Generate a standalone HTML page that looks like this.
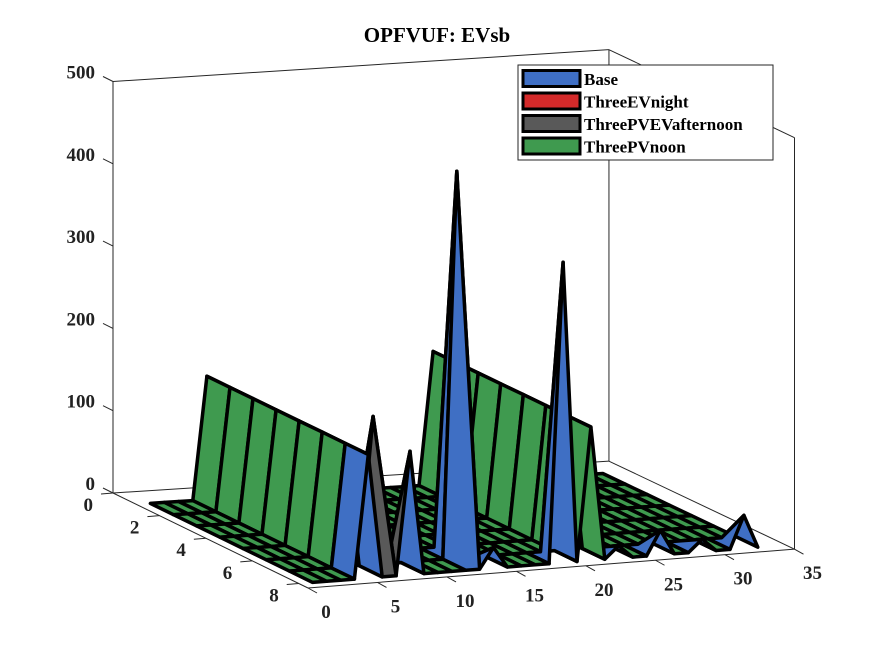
<!DOCTYPE html>
<html><head><meta charset="utf-8"><style>
html,body{margin:0;padding:0;background:#fff;width:875px;height:656px;overflow:hidden}
svg{display:block;font-family:"Liberation Serif",serif;font-weight:bold}
</style></head><body>
<svg id="chart" width="875" height="656" viewBox="0 0 875 656" xmlns="http://www.w3.org/2000/svg">
<text x="437" y="42" text-anchor="middle" font-size="21" fill="#000">OPFVUF: EVsb</text>
<g id="box"></g>
<g id="surf"></g>
<g id="ticks"></g>
<g id="legend"></g>
</svg>
<script>
// ---- data ----
const seriesNames = ["Base","ThreeEVnight","ThreePVEVafternoon","ThreePVnoon"];
const seriesColors = ["#3f6fc4","#d42a2a","#595959","#3f9a4f"];
const gridXCount = 33;
const gridYCount = 8;
const wallX = [5, 21];
const wallZ = [150, 162];
const spikeX = [13, 19, 8, 7, 26, 32, 14, 23, 29];
const spikeY = [7, 8, 8, 7, 8, 8, 8, 8, 8];
const spikeZ = [470, 365, 150, 180, 30, 40, 25, 15, 15];
const spikeS = [0, 0, 0, 2, 0, 0, 0, 0, 0];
const zTicks = [0, 100, 200, 300, 400, 500];
const yTicks = [0, 2, 4, 6, 8];
const xTicks = [0, 5, 10, 15, 20, 25, 30, 35];

// ---- projection ----
const YMAX = 8.4, ZMAX = 500, XMAX = 35;
function proj(x, y, z) {
  const t = y / YMAX;
  const bx = 113 + 14.17 * x, by = 493 - 0.91 * x;
  const fx = 308 + 13.9 * x, fy = 588 - 1.11 * x;
  return [bx + (fx - bx) * t, by + (fy - by) * t - z * 0.823];
}
const NS = "http://www.w3.org/2000/svg";
function mk(tag, attrs, parent) {
  const e = document.createElementNS(NS, tag);
  for (const k in attrs) e.setAttribute(k, attrs[k]);
  parent.appendChild(e);
  return e;
}
function pstr(pts) { return pts.map(p => p[0].toFixed(1) + "," + p[1].toFixed(1)).join(" "); }

// box lines
const box = document.getElementById("box");
const boxEdges = [
  [[0,0,0],[0,0,ZMAX]], [[0,0,ZMAX],[XMAX,0,ZMAX]], [[XMAX,0,0],[XMAX,0,ZMAX]],
  [[XMAX,0,ZMAX],[XMAX,YMAX,ZMAX]], [[XMAX,YMAX,0],[XMAX,YMAX,ZMAX]],
  [[0,0,0],[XMAX,0,0]], [[0,0,0],[0,YMAX,0]], [[0,YMAX,0],[XMAX,YMAX,0]], [[XMAX,0,0],[XMAX,YMAX,0]]
];
boxEdges.forEach(e => {
  const a = proj(...e[0]), b = proj(...e[1]);
  const l = mk("line", {x1:a[0],y1:a[1],x2:b[0],y2:b[1],stroke:"#262626","stroke-width":1}, box);
  
  
});

// build z and series grids
const Z = [], S = [];
for (let j = 1; j <= gridYCount; j++) {
  Z[j] = []; S[j] = [];
  for (let i = 1; i <= gridXCount; i++) { Z[j][i] = 0; S[j][i] = 3; }
}
wallX.forEach((wx, k) => { for (let j = 1; j <= gridYCount; j++) { Z[j][wx] = wallZ[k]; S[j][wx] = 3; } });
S[7][5] = 0; S[8][21] = 2;
spikeX.forEach((sx, k) => { Z[spikeY[k]][sx] = spikeZ[k]; S[spikeY[k]][sx] = spikeS[k]; });

// faces
const faces = [];
for (let j = 1; j < gridYCount; j++) {
  for (let i = 1; i < gridXCount; i++) {
    const c = [[i,j],[i+1,j],[i+1,j+1],[i,j+1]];
    let best = -1, ser = 3;
    c.forEach(([a,b]) => { if (Z[b][a] > best) { best = Z[b][a]; ser = S[b][a]; } });
    if (best <= 0) ser = 3;
    faces.push({pts: c.map(([a,b]) => proj(a, b, Z[b][a])), ser, key: (j + 0.5) - (i + 0.5) * 0.12});
  }
}
faces.sort((a, b) => a.key - b.key);
const surf = document.getElementById("surf");
faces.forEach(f => {
  const p = mk("polygon", {points: pstr(f.pts), fill: seriesColors[f.ser], stroke: "#000", "stroke-width": 3.5, "stroke-linejoin": "round"}, surf);
  
  
});

// ticks
const tk = document.getElementById("ticks");
zTicks.forEach(v => {
  const p = proj(0, 0, v);
  const l = mk("line", {x1:p[0]-10,y1:p[1]-5,x2:p[0],y2:p[1],stroke:"#262626","stroke-width":1}, tk);
  
  
  const t = mk("text", {x:p[0]-18, y:p[1]-3, "text-anchor":"end", "font-size":19, fill:"#222"}, tk);
  t.textContent = v;
  
  
});
yTicks.forEach(v => {
  const p = proj(0, v, 0);
  const l = mk("line", {x1:p[0]-12,y1:p[1]+1,x2:p[0],y2:p[1],stroke:"#262626","stroke-width":1}, tk);
  
  
  const t = mk("text", {x:p[0]-20, y:p[1]+18, "text-anchor":"end", "font-size":19, fill:"#222"}, tk);
  t.textContent = v;
  
  
});
xTicks.forEach(v => {
  const p = proj(v, YMAX, 0);
  const l = mk("line", {x1:p[0],y1:p[1],x2:p[0]+9,y2:p[1]+5,stroke:"#262626","stroke-width":1}, tk);
  
  
  const t = mk("text", {x:p[0]+18, y:p[1]+30, "text-anchor":"middle", "font-size":19, fill:"#222"}, tk);
  t.textContent = v;
  
  
});

// legend
const lg = document.getElementById("legend");
const lb = mk("rect", {x:518, y:65, width:255, height:95, fill:"#fff", stroke:"#262626", "stroke-width":1}, lg);


seriesNames.forEach((n, k) => {
  const y = 69 + k * 22.5;
  const r = mk("rect", {x:523, y:y + 1.5, width:57, height:16, fill:seriesColors[k], stroke:"#000", "stroke-width":3}, lg);
  
  
  const t = mk("text", {x:584, y:y + 16, "font-size":17, fill:"#000"}, lg);
  t.textContent = n;
  
  
});
</script>
</body></html>
